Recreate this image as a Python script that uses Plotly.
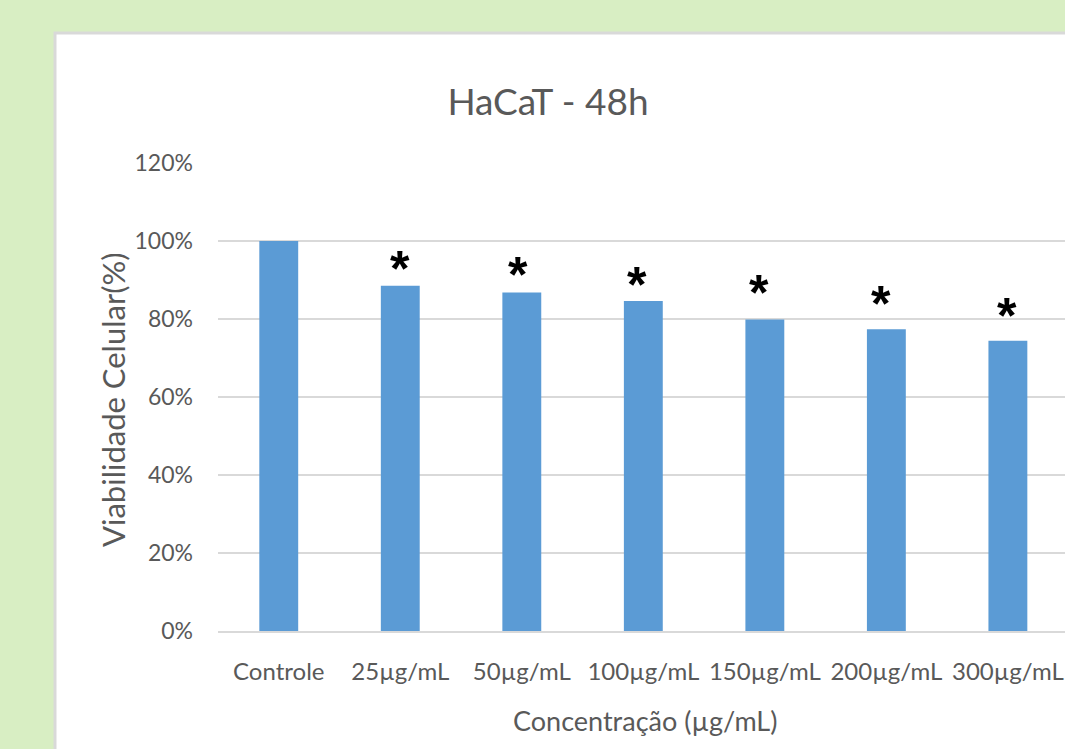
import plotly.graph_objects as go

categories = ["Controle", "25µg/mL", "50µg/mL", "100µg/mL", "150µg/mL", "200µg/mL", "300µg/mL"]
viability = [1.00, 0.885, 0.868, 0.846, 0.799, 0.774, 0.744]
# level (in axis units) at which each significance asterisk is centred
star_level = [None, 0.950, 0.934, 0.907, 0.887, 0.859, 0.828]
y_ticks = [0, 0.2, 0.4, 0.6, 0.8, 1.0, 1.2]
y_tick_labels = ["0%", "20%", "40%", "60%", "80%", "100%", "120%"]

W, H = 1065, 749
L, R, T, B = 218, 0, 163, 118
pw, ph = W - L - R, H - T - B

def px2x(px):
    return (px - L) / pw

def px2y(py):
    return (H - B - py) / ph

GRAY = "#595959"
FONT = "Lato"

fig = go.Figure()
fig.add_trace(go.Bar(
    x=categories, y=viability,
    marker=dict(color="#5B9BD5", line=dict(width=0)),
    width=0.32,
    hoverinfo="x+y",
))

star_dx = [0, 0, -4, -6, -6, -5, -1]
for cat, lvl, dx in zip(categories, star_level, star_dx):
    if lvl is not None:
        fig.add_annotation(
            x=cat, y=lvl, xref="x", yref="y",
            text="<b>*</b>", showarrow=False,
            yanchor="middle", yshift=-8, xshift=dx,
            font=dict(family="Liberation Sans", size=50, color="#000000"),
        )

# axis titles as annotations for exact placement
fig.add_annotation(
    x=px2x(113), y=px2y(400), xref="paper", yref="paper",
    text="Viabilidade Celular(%)", textangle=-90, showarrow=False,
    xanchor="center", yanchor="middle",
    font=dict(family=FONT, size=31, color=GRAY),
)
fig.add_annotation(
    x=px2x(645), y=px2y(720), xref="paper", yref="paper",
    text="Concentração (µg/mL)", showarrow=False,
    xanchor="center", yanchor="middle",
    font=dict(family=FONT, size=27, color=GRAY),
)

fig.update_layout(
    width=W, height=H,
    margin=dict(l=L, r=R, t=T, b=B, pad=0),
    paper_bgcolor="#D8EEC3",
    plot_bgcolor="rgba(0,0,0,0)",
    showlegend=False,
    title=dict(
        text="HaCaT - 48h",
        x=px2x(548), xref="paper", xanchor="center",
        y=1 - 102 / H, yref="container", yanchor="middle",
        font=dict(family=FONT, size=37, color=GRAY),
    ),
    xaxis=dict(
        type="category",
        range=[-0.5, 6.47],
        showgrid=False,
        showline=True, linecolor="#D9D9D9", linewidth=2,
        ticks="", ticklabelstandoff=18,
        tickfont=dict(family=FONT, size=24, color=GRAY),
        fixedrange=True,
    ),
    yaxis=dict(
        range=[0, 1.2],
        tickvals=y_ticks, ticktext=y_tick_labels,
        showgrid=True, gridcolor="#D9D9D9", gridwidth=2,
        zeroline=False, showline=False,
        ticks="", ticklabelstandoff=24,
        tickfont=dict(family=FONT, size=23, color=GRAY),
        fixedrange=True,
    ),
    shapes=[dict(
        type="rect", xref="paper", yref="paper", layer="below",
        x0=px2x(55), x1=px2x(1080), y0=px2y(33), y1=px2y(770),
        fillcolor="#FFFFFF", line=dict(color="#D9D9D9", width=3),
    )],
)

fig.write_html(
    "out.html",
    config={"displayModeBar": False},
    post_script="document.body.style.margin='0px';document.body.style.overflow='hidden';",
)
